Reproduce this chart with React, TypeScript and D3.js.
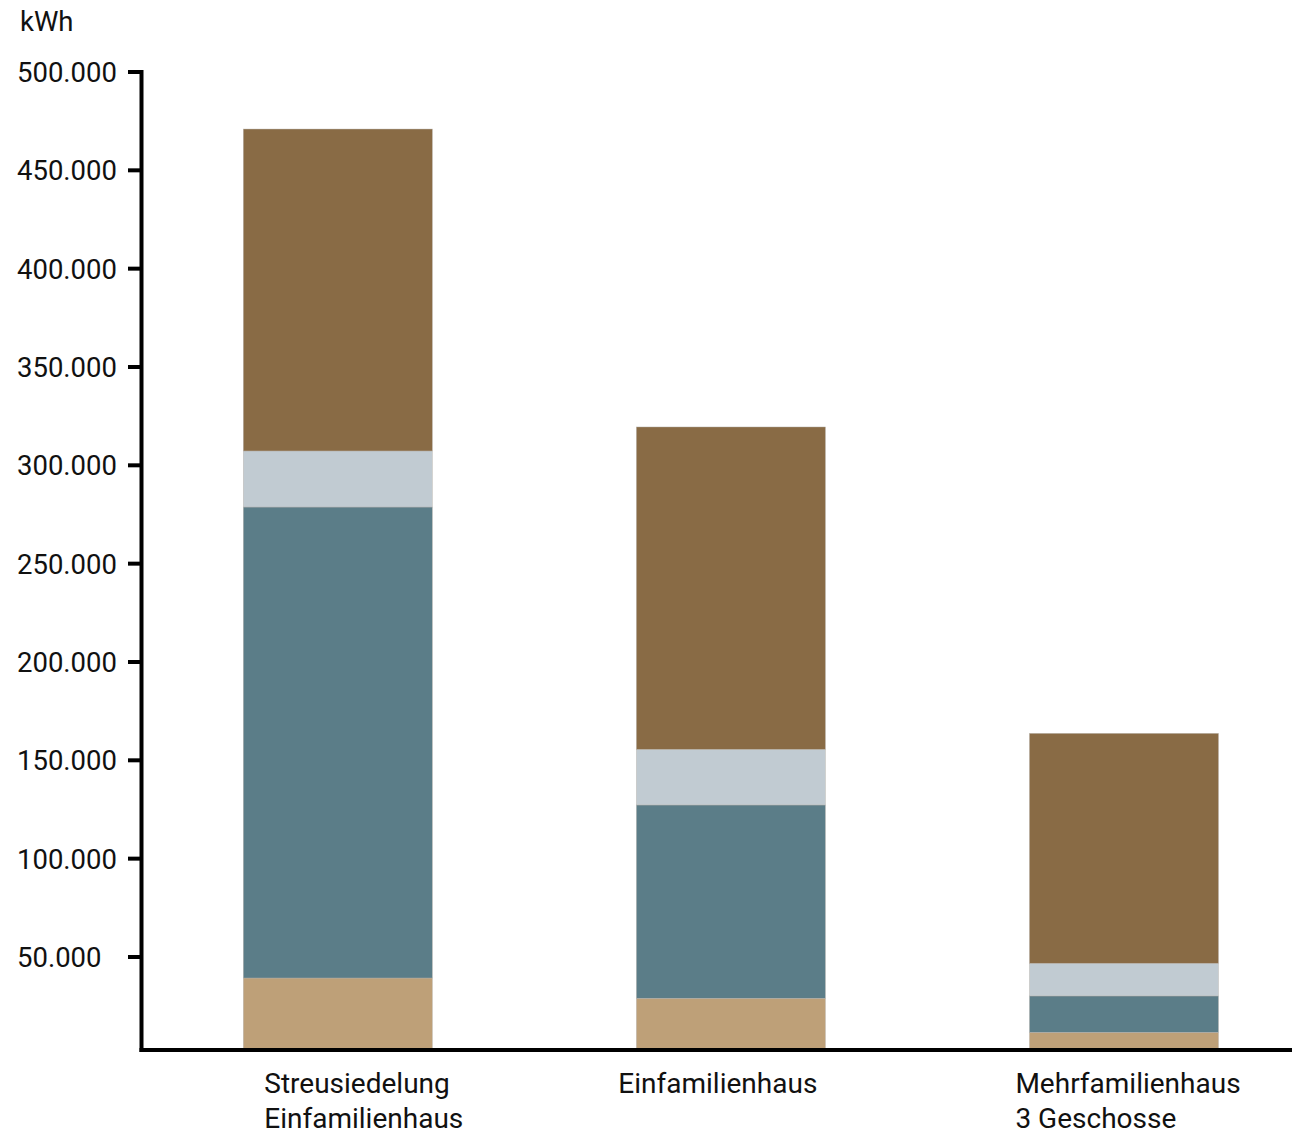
import React from "react";
import * as d3 from "d3";

const categories = ["Streusiedelung|Einfamilienhaus", "Einfamilienhaus", "Mehrfamilienhaus|3 Geschosse"];
const seriesKeys = ["tan", "teal", "lightgray", "brown"];
const tanValues = [39300, 29000, 11700];
const tealValues = [239500, 98300, 18500];
const lightgrayValues = [28500, 28300, 16600];
const brownValues = [163700, 163900, 116900];
const tickValues = [50000, 100000, 150000, 200000, 250000, 300000, 350000, 400000, 450000, 500000];
const tickLabels = ["50.000", "100.000", "150.000", "200.000", "250.000", "300.000", "350.000", "400.000", "450.000", "500.000"];
const unitLabel = "kWh";

const colors: Record<string, string> = {
  tan: "#BEA078",
  teal: "#5B7D88",
  lightgray: "#C1CBD2",
  brown: "#896B45",
};

const W = 1292;
const H = 1135;
const FONT = "Roboto, 'Noto Sans', sans-serif";
const labelDx = [21, -18, -14];

export default function App() {
  const rows = categories.map((c, i) => ({
    cat: c,
    tan: tanValues[i],
    teal: tealValues[i],
    lightgray: lightgrayValues[i],
    brown: brownValues[i],
  }));
  const stack = d3.stack<any>().keys(seriesKeys);
  const series = stack(rows);

  const x = d3.scaleBand<string>().domain(categories).range([243.3, 1218.5]).paddingInner(0.519).paddingOuter(0);
  const y = d3.scaleLinear().domain([2700, 500000]).range([1050, 72]).clamp(true);

  const axisX = 141.5;
  const baseY = 1050;

  return (
    <svg width={W} height={H} style={{ position: "absolute", left: 0, top: 0, background: "#fff" }} fontFamily={FONT}>
      {series.map((s) => (
        <g key={s.key} fill={colors[s.key]}>
          {s.map((d, i) => (
            <rect
              key={i}
              x={x(categories[i])!}
              width={x.bandwidth()}
              y={y(d[1])}
              height={y(d[0]) - y(d[1])}
              stroke="#b8b4ae"
              strokeWidth={0.6}
              strokeOpacity={0.7}
            />
          ))}
        </g>
      ))}

      {/* y axis */}
      <line x1={axisX} x2={axisX} y1={y(500000) - 2} y2={baseY + 2} stroke="#000" strokeWidth={4} />
      {tickValues.map((v, i) => (
        <g key={v}>
          <line x1={128} x2={axisX} y1={y(v)} y2={y(v)} stroke="#000" strokeWidth={4} />
          <text x={17} y={y(v)} dy="0.36em" fontSize={27.5} fill="#111">
            {tickLabels[i]}
          </text>
        </g>
      ))}
      <text x={20} y={31} fontSize={27.5} fill="#111">{unitLabel}</text>

      {/* x axis */}
      <line x1={axisX - 2} x2={W} y1={baseY} y2={baseY} stroke="#000" strokeWidth={4} />
      {categories.map((c, i) => {
        const lines = c.split("|");
        return (
          <text key={c} x={x(c)! + labelDx[i]} y={1093} fontSize={28} fill="#111">
            {lines.map((l, j) => (
              <tspan key={j} x={x(c)! + labelDx[i]} dy={j === 0 ? 0 : 35}>
                {l}
              </tspan>
            ))}
          </text>
        );
      })}
    </svg>
  );
}
